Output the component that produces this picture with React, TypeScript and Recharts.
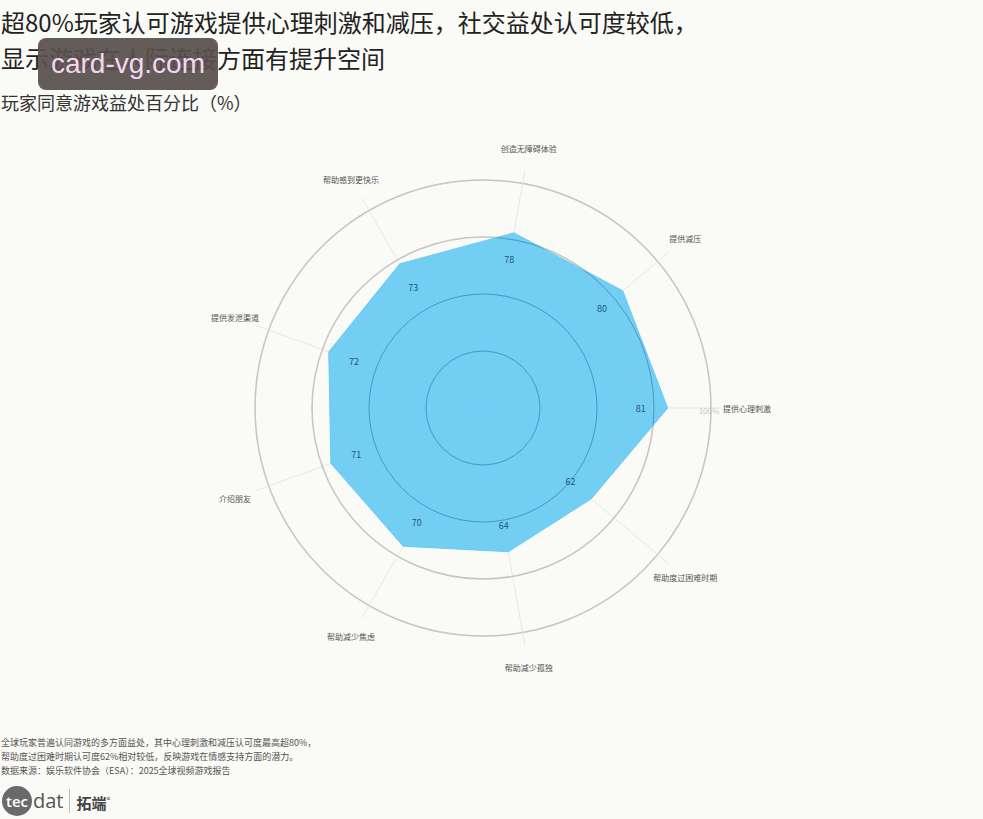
import React from 'react';
import { RadarChart, PolarGrid, PolarAngleAxis, PolarRadiusAxis, Radar } from 'recharts';

// benefit categories, clockwise starting just right of 12 o'clock
const CATEGORIES = [
  '创造无障碍体验',
  '提供减压',
  '提供心理刺激',
  '帮助度过困难时期',
  '帮助减少孤独',
  '帮助减少焦虑',
  '介绍朋友',
  '提供发泄渠道',
  '帮助感到更快乐',
];
const AGREE_PCT = [78, 80, 81, 62, 64, 70, 71, 72, 73];
const RADIUS_DOMAIN = [0, 100];
const INNER_RINGS = [25, 50, 75];

const TITLE_LINES = [
  '超80%玩家认可游戏提供心理刺激和减压，社交益处认可度较低，',
  '显示游戏在人际连接方面有提升空间',
];
const SUBTITLE = '玩家同意游戏益处百分比（%）';
const NOTES = [
  '全球玩家普遍认同游戏的多方面益处，其中心理刺激和减压认可度最高超80%，',
  '帮助度过困难时期认可度62%相对较低，反映游戏在情感支持方面的潜力。',
  '数据来源：娱乐软件协会（ESA）：2025全球视频游戏报告',
];

const data = CATEGORIES.map((name, i) => ({ name, value: AGREE_PCT[i] }));

const W = 983;
const H = 819;
const CX = 483;
const CY = 408;
const OUTER_R = 228;
const FONT = '"Noto Sans CJK SC", "Noto Sans", sans-serif';
const FILL = '#6ccbf3';

const AngleTick = (props: any) => {
  const dx = props.x - CX;
  const dy = props.y - CY;
  const len = Math.sqrt(dx * dx + dy * dy) || 1;
  const cos = dx / len;
  const sin = dy / len;
  const rightSide = cos > 0.95;
  const r = rightSide ? OUTER_R + 12 : OUTER_R + 36;
  return (
    <text
      x={CX + r * cos}
      y={CY + r * sin}
      textAnchor={rightSide ? 'start' : 'middle'}
      dominantBaseline="central"
      fontSize={8}
      fill="#555"
      fontFamily={FONT}
    >
      {props.payload.value}
    </text>
  );
};

const RadiusTick = (props: any) => {
  if (props.payload.value !== 100) return <g />;
  return (
    <text x={props.x - 2} y={props.y + 2} textAnchor="middle" dominantBaseline="central" fontSize={8} fill="#c8c8c8" fontFamily={FONT}>
      100%
    </text>
  );
};

const ValueDot = (props: any) => {
  const p = props.payload || {};
  const dx = props.cx - CX;
  const dy = props.cy - CY;
  const len = Math.sqrt(dx * dx + dy * dy) || 1;
  const k = (len - 27) / len;
  return (
    <text
      key={`v-${props.index}`}
      x={CX + dx * k}
      y={CY + dy * k}
      textAnchor="middle"
      dominantBaseline="central"
      fontSize={9}
      fill="#23557a"
      fontFamily={FONT}
    >
      {p.value}
    </text>
  );
};

// polygon plus the inner rings seen through the fill
const RadarShape = (props: any) => {
  const pts = props.points || [];
  if (!pts.length) return null;
  const d = pts.map((p: any, i: number) => `${i ? 'L' : 'M'}${p.x},${p.y}`).join('') + 'Z';
  const p0 = pts[0];
  const pxPerUnit = p0.radius / p0.value;
  return (
    <g>
      <defs>
        <clipPath id="radar-clip">
          <path d={d} />
        </clipPath>
      </defs>
      <path d={d} fill={FILL} fillOpacity={0.95} stroke={FILL} strokeWidth={1} />
      <g clipPath="url(#radar-clip)">
        {INNER_RINGS.map((v) => (
          <circle key={v} cx={p0.cx} cy={p0.cy} r={v * pxPerUnit} fill="none" stroke="#2b6e9c" strokeOpacity={0.55} strokeWidth={1} />
        ))}
      </g>
    </g>
  );
};

const App = () => {
  return (
    <div style={{ position: 'absolute', left: 0, top: 0, width: W, height: H, background: '#fafaf6', overflow: 'hidden', fontFamily: FONT }}>
      <RadarChart
        width={W}
        height={H}
        data={data}
        cx={CX}
        cy={CY}
        outerRadius={OUTER_R}
        startAngle={80}
        endAngle={-280}
        margin={{ top: 0, right: 0, bottom: 0, left: 0 }}
        style={{ position: 'absolute', left: 0, top: 0 }}
      >
        <PolarGrid gridType="circle" stroke="#e3e9ed" strokeWidth={1} />
        <PolarGrid gridType="circle" radialLines={false} stroke="#c6c6c6" strokeWidth={1.5} />
        <PolarAngleAxis dataKey="name" tick={AngleTick} tickLine={{ stroke: '#e3e9ed' }} tickSize={14} axisLine={false} />
        <PolarRadiusAxis angle={0} domain={RADIUS_DOMAIN} tickCount={5} axisLine={false} tick={RadiusTick} tickLine={false} />
        <Radar dataKey="value" fill={FILL} stroke={FILL} shape={RadarShape} dot={ValueDot} isAnimationActive={false} />
      </RadarChart>

      <div style={{ position: 'absolute', left: 1, top: 4, fontSize: 24, lineHeight: '36px', color: '#222', whiteSpace: 'nowrap' }}>
        {TITLE_LINES.map((t) => (
          <div key={t}>{t}</div>
        ))}
      </div>
      <div style={{ position: 'absolute', left: 1, top: 90, fontSize: 18, lineHeight: '24px', color: '#333', whiteSpace: 'nowrap' }}>
        {SUBTITLE}
      </div>

      <div
        style={{
          position: 'absolute',
          left: 38,
          top: 38,
          width: 180,
          height: 52,
          borderRadius: 8,
          background: 'rgba(88,80,76,0.93)',
          color: '#f4d6f0',
          fontFamily: '"Liberation Sans", Arial, sans-serif',
          fontSize: 28,
          lineHeight: '52px',
          textAlign: 'center',
        }}
      >
        card-vg.com
      </div>

      <div style={{ position: 'absolute', left: 1, top: 736, fontSize: 9, lineHeight: '14px', color: '#555', whiteSpace: 'nowrap' }}>
        {NOTES.map((t) => (
          <div key={t}>{t}</div>
        ))}
      </div>

      <div style={{ position: 'absolute', left: 2, top: 785, height: 32, display: 'flex', alignItems: 'center' }}>
        <div style={{ width: 30, height: 30, borderRadius: 15, background: '#6a6a6a', color: '#fff', fontFamily: '"Open Sans", sans-serif', fontSize: 15, fontWeight: 600, lineHeight: '30px', textAlign: 'center' }}>
          tec
        </div>
        <div style={{ fontFamily: '"Open Sans", sans-serif', fontSize: 20, color: '#555', marginLeft: 1, lineHeight: '30px' }}>dat</div>
        <div style={{ width: 1, height: 24, background: '#bbb', margin: '0 6px' }} />
        <div style={{ fontSize: 15, fontWeight: 700, color: '#444', lineHeight: '30px' }}>
          拓端<sup style={{ fontSize: 8, fontWeight: 400 }}>®</sup>
        </div>
      </div>
    </div>
  );
};

export default App;
